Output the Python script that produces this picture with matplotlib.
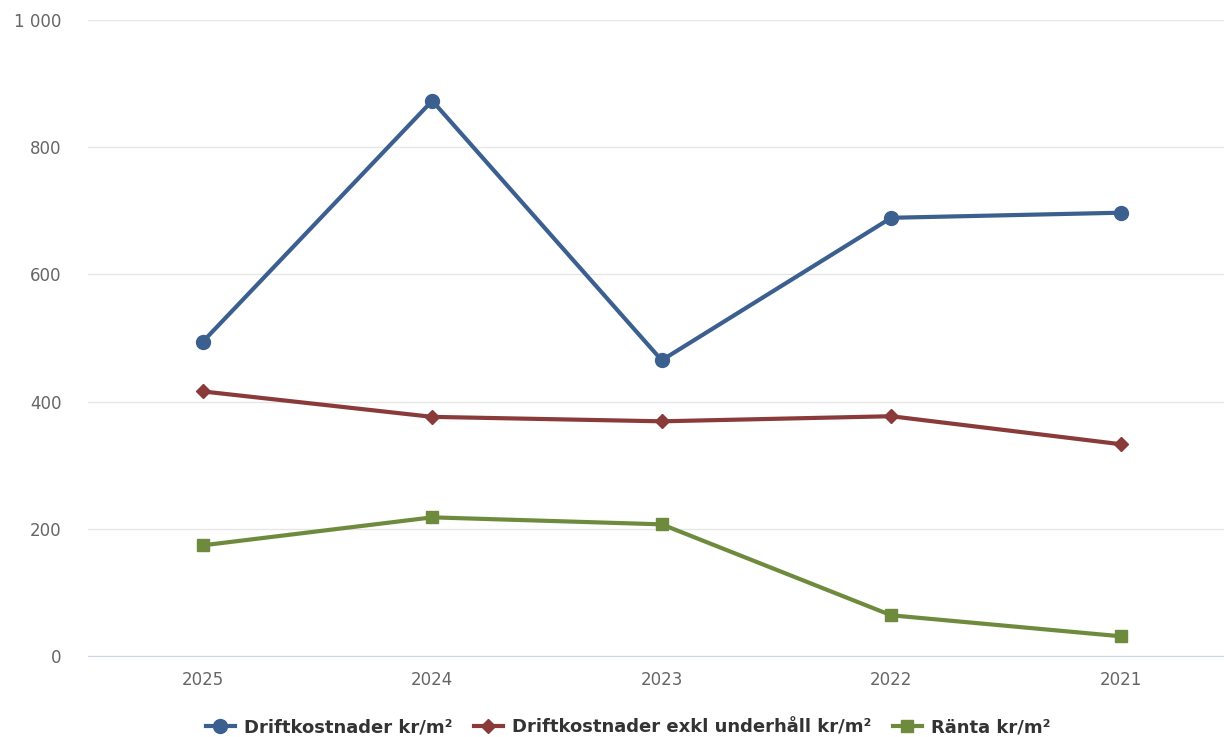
import matplotlib.pyplot as plt
from matplotlib.ticker import FuncFormatter

years = ['2025', '2024', '2023', '2022', '2021']
drift = [494, 873, 465, 689, 697]
drift_exkl = [416, 376, 369, 377, 333]
ranta = [174, 218, 207, 64, 31]

plt.rcParams['font.family'] = ['DejaVu Sans']

fig = plt.figure(figsize=(12.24, 7.37), dpi=100)
ax = fig.add_axes([88 / 1224, 81 / 737, 1 - 88 / 1224, 636 / 737])

x = range(len(years))
ax.plot(x, drift, color='#3b5f8f', lw=3, marker='o', ms=10, label='Driftkostnader kr/m²', zorder=3)
ax.plot(x, drift_exkl, color='#8b3a3a', lw=3, marker='D', ms=7, label='Driftkostnader exkl underhåll kr/m²', zorder=3)
ax.plot(x, ranta, color='#6e8b3d', lw=3, marker='s', ms=9, label='Ränta kr/m²', zorder=3)

ax.set_xlim(-0.5, 4.45)
ax.set_ylim(0, 1000)
ax.set_yticks(range(0, 1001, 200))
ax.yaxis.set_major_formatter(FuncFormatter(lambda v, p: f'{int(v):,}'.replace(',', ' ')))
ax.set_xticks(list(x))
ax.set_xticklabels(years)
ax.grid(axis='y', color='#e6e6e6', lw=1)
ax.set_axisbelow(True)
for s in ['top', 'right', 'left']:
    ax.spines[s].set_visible(False)
ax.spines['bottom'].set_color('#ccd6eb')
ax.spines['bottom'].set_zorder(1)
ax.tick_params(axis='both', length=0, colors='#666666', labelsize=12)
ax.tick_params(axis='y', pad=19)
ax.tick_params(axis='x', pad=11)

leg = fig.legend(handles=ax.get_lines(), loc='center', bbox_to_anchor=(628 / 1224, 10 / 737), ncol=3,
                 frameon=False, prop={'weight': 'bold', 'size': 13}, handlelength=1.6,
                 columnspacing=1.2, handletextpad=0.5, borderpad=0)
for t in leg.get_texts():
    t.set_color('#333333')

fig.savefig('out.png', dpi=100)
